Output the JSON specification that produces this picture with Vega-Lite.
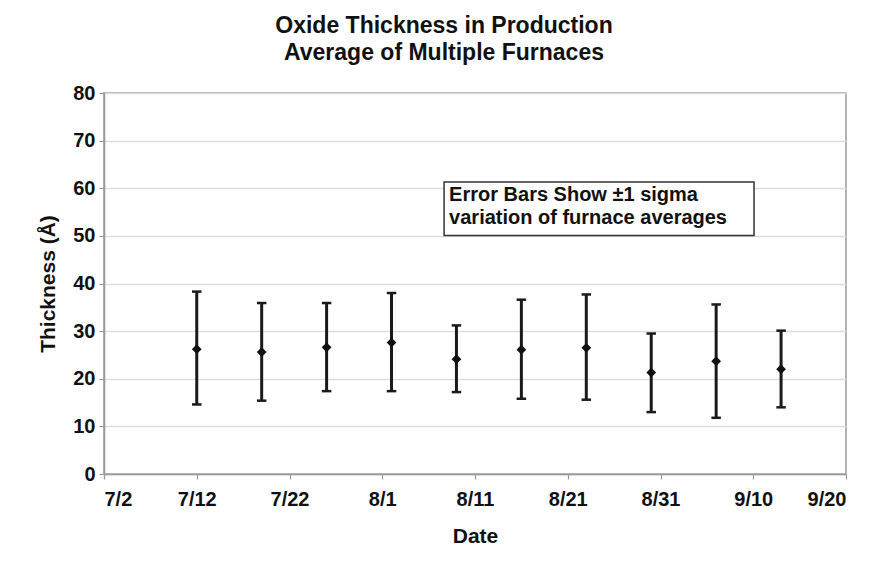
{
  "$schema": "https://vega.github.io/schema/vega-lite/v6.json",
  "width": 742,
  "height": 381,
  "autosize": {"type": "none"},
  "padding": {"left": 104, "top": 93, "right": 24, "bottom": 90},
  "background": "white",
  "config": {
    "font": "Liberation Sans",
    "view": {"stroke": "#999999", "strokeWidth": 1.5},
    "axis": {
      "labelFont": "Liberation Sans",
      "labelFontWeight": "bold",
      "labelFontSize": 20,
      "labelColor": "#111111",
      "titleFont": "Liberation Sans",
      "titleFontWeight": "bold",
      "titleFontSize": 21,
      "titleColor": "#111111",
      "domainColor": "#999999",
      "domainWidth": 1.5,
      "tickColor": "#999999",
      "tickWidth": 1.2,
      "tickSize": 5,
      "gridColor": "#dddddd",
      "gridWidth": 1.5
    }
  },
  "title": {
    "text": ["Oxide Thickness in Production", "Average of Multiple Furnaces"],
    "font": "Liberation Sans",
    "fontSize": 23,
    "fontWeight": "bold",
    "color": "#111111",
    "lineHeight": 27,
    "anchor": "middle",
    "dx": -31,
    "offset": 18
  },
  "data": {
    "values": [
      {"date": "2000-07-12", "mean": 26.2, "lo": 14.6, "hi": 38.3},
      {"date": "2000-07-19", "mean": 25.6, "lo": 15.4, "hi": 35.9},
      {"date": "2000-07-26", "mean": 26.6, "lo": 17.4, "hi": 35.9},
      {"date": "2000-08-02", "mean": 27.6, "lo": 17.4, "hi": 38.0},
      {"date": "2000-08-09", "mean": 24.1, "lo": 17.2, "hi": 31.2},
      {"date": "2000-08-16", "mean": 26.1, "lo": 15.8, "hi": 36.6},
      {"date": "2000-08-23", "mean": 26.5, "lo": 15.6, "hi": 37.7},
      {"date": "2000-08-30", "mean": 21.3, "lo": 13.0, "hi": 29.5},
      {"date": "2000-09-06", "mean": 23.7, "lo": 11.8, "hi": 35.6},
      {"date": "2000-09-13", "mean": 22.0, "lo": 14.0, "hi": 30.1}
    ]
  },
  "layer": [
    {
      "mark": {"type": "rule", "strokeWidth": 3, "color": "#1a1a1a"},
      "encoding": {
        "x": {
          "field": "date", "type": "temporal",
          "scale": {"type": "utc", "domain": [{"year": 2000, "month": 7, "date": 2, "utc": true}, {"year": 2000, "month": 9, "date": 20, "utc": true}], "nice": false},
          "axis": {
            "title": "Date",
            "labelExpr": "utcFormat(datum.value, '%-m/%-d')",
            "labelOverlap": false,
            "grid": false,
            "labelPadding": 10,
            "titlePadding": 16,
            "values": [
              {"year": 2000, "month": 7, "date": 2, "utc": true},
              {"year": 2000, "month": 7, "date": 12, "utc": true},
              {"year": 2000, "month": 7, "date": 22, "utc": true},
              {"year": 2000, "month": 8, "date": 1, "utc": true},
              {"year": 2000, "month": 8, "date": 11, "utc": true},
              {"year": 2000, "month": 8, "date": 21, "utc": true},
              {"year": 2000, "month": 8, "date": 31, "utc": true},
              {"year": 2000, "month": 9, "date": 10, "utc": true},
              {"year": 2000, "month": 9, "date": 20, "utc": true}
            ]
          }
        },
        "y": {
          "field": "lo", "type": "quantitative",
          "scale": {"domain": [0, 80], "nice": false},
          "axis": {"title": "Thickness (Å)", "values": [0, 10, 20, 30, 40, 50, 60, 70, 80], "labelPadding": 4, "titlePadding": 14}
        },
        "y2": {"field": "hi"}
      }
    },
    {
      "mark": {"type": "point", "shape": "stroke", "filled": false, "size": 90, "strokeWidth": 2.5, "color": "#1a1a1a", "opacity": 1},
      "encoding": {
        "x": {"field": "date", "type": "temporal"},
        "y": {"field": "lo", "type": "quantitative"}
      }
    },
    {
      "mark": {"type": "point", "shape": "stroke", "filled": false, "size": 90, "strokeWidth": 2.5, "color": "#1a1a1a", "opacity": 1},
      "encoding": {
        "x": {"field": "date", "type": "temporal"},
        "y": {"field": "hi", "type": "quantitative"}
      }
    },
    {
      "mark": {"type": "point", "shape": "diamond", "filled": true, "color": "#111111", "opacity": 1, "size": 95},
      "encoding": {
        "x": {"field": "date", "type": "temporal"},
        "y": {"field": "mean", "type": "quantitative"}
      }
    },
    {
      "data": {"values": [{}]},
      "mark": {"type": "rect", "fill": "white", "stroke": "#333333", "strokeWidth": 1.5},
      "encoding": {
        "x": {"datum": {"year": 2000, "month": 8, "date": 7, "hours": 16, "utc": true}, "type": "temporal"},
        "x2": {"datum": {"year": 2000, "month": 9, "date": 10, "hours": 2, "utc": true}},
        "y": {"datum": 61.3, "type": "quantitative"},
        "y2": {"datum": 50.1}
      }
    },
    {
      "data": {"values": [{}]},
      "mark": {"type": "text", "text": ["Error Bars Show ±1 sigma", "variation of furnace averages"], "align": "left", "baseline": "top", "font": "Liberation Sans", "fontWeight": "bold", "fontSize": 20, "lineHeight": 23, "color": "#111111"},
      "encoding": {
        "x": {"datum": {"year": 2000, "month": 8, "date": 8, "hours": 5, "utc": true}, "type": "temporal"},
        "y": {"datum": 60.6, "type": "quantitative"}
      }
    }
  ]
}
